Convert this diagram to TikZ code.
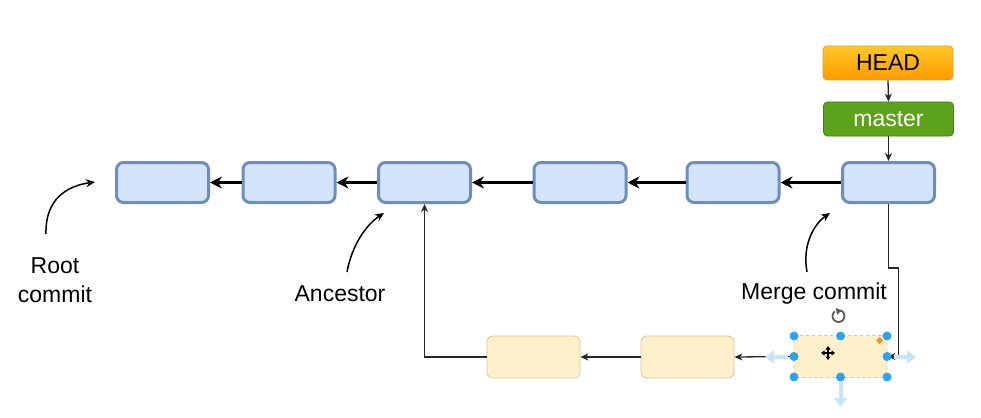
\documentclass[tikz,border=0pt]{standalone}
\usepackage{fontspec}
\setmainfont{Liberation Sans}
\usetikzlibrary{arrows.meta}
\definecolor{cfill}{HTML}{D4E4FB}
\definecolor{cdraw}{HTML}{6C8EBF}
\definecolor{yfill}{HTML}{FFF0CC}
\definecolor{ydraw}{HTML}{DEC68A}
\definecolor{headtop}{HTML}{FFC828}
\definecolor{headbot}{HTML}{FF9A00}
\definecolor{headdraw}{HTML}{E3A21A}
\definecolor{mfill}{HTML}{5CA21A}
\definecolor{mdraw}{HTML}{3E8012}
\definecolor{handle}{HTML}{2AA4EE}
\definecolor{hint}{HTML}{C6E4FA}
\definecolor{diam}{HTML}{F0901E}
\begin{document}
\begin{tikzpicture}[x=1pt,y=-1pt,
  commit/.style={draw=cdraw,fill=cfill,line width=3pt,rounded corners=7pt,
    minimum width=92pt,minimum height=40pt,inner sep=0pt},
  branch/.style={draw=ydraw,fill=yfill,line width=0.8pt,rounded corners=6pt,
    minimum width=93pt,minimum height=42pt,inner sep=0pt},
  refbox/.style={rounded corners=4pt,line width=0.8pt,minimum width=130pt,
    minimum height=34pt,inner sep=0pt,font=\fontsize{23}{27}\selectfont},
  parent/.style={line width=3pt,-{Stealth[length=12pt,width=12pt,inset=4pt]}},
  link/.style={line width=1.3pt,black!85,-{Stealth[length=8pt,width=7pt,inset=2.5pt]}},
  note/.style={line width=1.5pt,-{Stealth[length=9pt,width=8pt,inset=3pt]}},
  lbl/.style={font=\fontsize{23}{29}\selectfont,align=center,inner sep=0pt},
  hnd/.style={fill=handle,draw=none},
  hintarrow/.style={hint,line width=4pt,-{Triangle[length=9pt,width=13pt]}}]
\useasboundingbox (0,0) rectangle (981,417);

% top commits
\node[commit] (c1) at (162.5,182.5) {};
\node[commit] (c2) at (289,182.5) {};
\node[commit] (c3) at (424.5,182.5) {};
\node[commit] (c4) at (580,182.5) {};
\node[commit] (c5) at (733,182.5) {};
\node[commit] (c6) at (888.5,182.5) {};

% refs
\node[refbox,draw=headdraw,top color=headtop,bottom color=headbot] (head) at (888,63) {HEAD};
\node[refbox,draw=mdraw,fill=mfill,text=white] (master) at (888.5,119) {master};

% branch commits
\node[branch] (y1) at (533.5,357) {};
\node[branch] (y2) at (687.5,357) {};
\node[branch,dashed] (y3) at (840.5,356.5) {};

% parent links
\draw[parent] (c2.west) -- (c1.east);
\draw[parent] (c3.west) -- (c2.east);
\draw[parent] (c4.west) -- (c3.east);
\draw[parent] (c5.west) -- (c4.east);
\draw[parent] (c6.west) -- (c5.east);

\draw[link] (head.south) -- (master.north);
\draw[link] (master.south) -- (c6.north);
\draw[link] (c6.south) -- ++(0,64) -- ++(10,0) |- (y3.east);
\draw[link] (y3.west) -- (y2.east);
\draw[link] (y2.west) -- (y1.east);
\draw[link] (y1.west) -| (c3.south);

% annotations
\coordinate (rs) at (46,234);
\coordinate (re) at (95,182);
\draw[note] (rs) .. controls (45,200) and (66,186) .. (re);
\coordinate (as) at (347,272);
\coordinate (ae) at (384,213);
\draw[note] (as) .. controls (352,245) and (366,225) .. (ae);
\coordinate (ms) at (807,272);
\coordinate (me) at (830,213);
\draw[note] (ms) .. controls (802,245) and (814,224) .. (me);

\node[lbl] (lroot) at (55,280) {Root\\commit};
\node[lbl] (lanc) at (340,294) {Ancestor};
\node[lbl] (lmerge) at (814,294) {Merge commit};

% selection decoration
\draw[hintarrow] (788,357) -- (765,357);
\draw[hintarrow] (894,357) -- (916,357);
\draw[hintarrow] (840.5,382) -- (840.5,407);
\foreach \p in {(794,336),(840.5,336),(887,336),(794,356.5),(887,356.5),(794,377),(840.5,377),(887,377)}
  \fill[hnd] \p circle (4.5pt);
\fill[diam] (879.5,337) -- (883,340.5) -- (879.5,344) -- (876,340.5) -- cycle;
% rotate icon
\draw[black!65,line width=1.8pt] (838.5,316) ++(70:6pt) arc[start angle=70,end angle=-230,radius=6pt];
\fill[black!65] (836,308) -- (842,310.5) -- (837,314.5) -- cycle;
% move icon
\draw[line width=1.2pt,{Triangle[length=3.5pt,width=5pt]}-{Triangle[length=3.5pt,width=5pt]}] (821,353) -- (835,353);
\draw[line width=1.2pt,{Triangle[length=3.5pt,width=5pt]}-{Triangle[length=3.5pt,width=5pt]}] (828,346) -- (828,360);
\end{tikzpicture}
\end{document}
